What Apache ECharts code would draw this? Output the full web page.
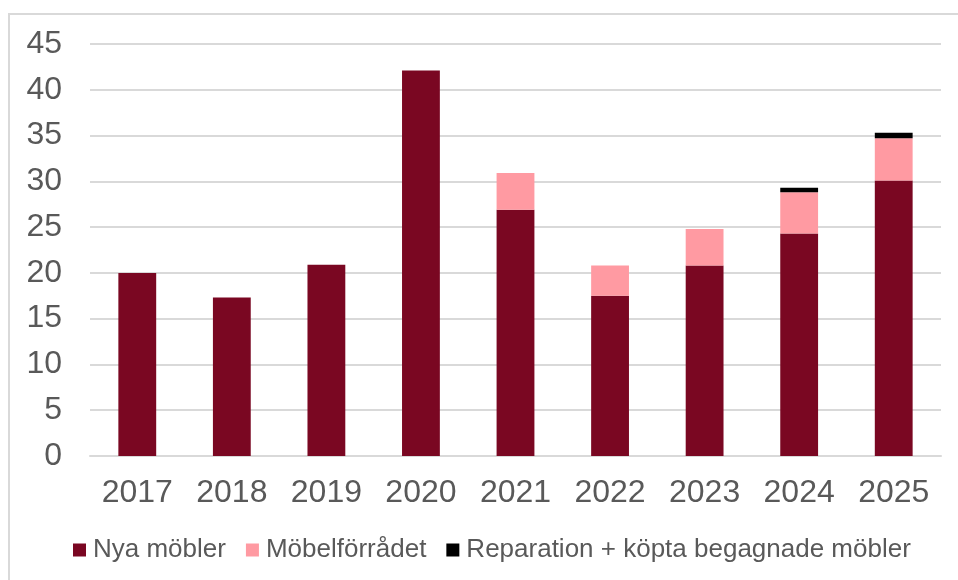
<!DOCTYPE html>
<html>
<head>
<meta charset="utf-8">
<script src="https://cdn.jsdelivr.net/npm/echarts@6/dist/echarts.min.js"></script>
<style>
  html, body { margin: 0; padding: 0; background: #fff; }
  #chart { width: 958px; height: 580px; }
</style>
</head>
<body>
<div id="chart"></div>
<script>
// år och värden
const years = ['2017', '2018', '2019', '2020', '2021', '2022', '2023', '2024', '2025'];
const nyaMobler = [20.0, 17.3, 20.9, 42.1, 26.9, 17.5, 20.8, 24.3, 30.1];
const mobelforradet = [0, 0, 0, 0, 4.0, 3.3, 4.0, 4.5, 4.6];
const reparation = [0, 0, 0, 0, 0, 0, 0, 0.5, 0.6];
const seriesNames = ['Nya möbler', 'Möbelförrådet', 'Reparation + köpta begagnade möbler'];
const colors = ['#7a0722', '#ff9aa2', '#000000'];

const font = '"Liberation Sans", Arial, sans-serif';

const option = {
    animation: false,
    color: colors,
    textStyle: { fontFamily: font },
    graphic: [
        {
            type: 'rect',
            shape: { x: 9, y: 14, width: 970, height: 600 },
            style: { fill: 'none', stroke: '#d9d9d9', lineWidth: 2 },
            silent: true
        }
    ],
    legend: {
        data: seriesNames,
        bottom: 12,
        left: 68,
        itemWidth: 13,
        itemHeight: 13,
        itemGap: 20,
        icon: 'rect',
        textStyle: { color: '#595959', fontSize: 26, fontFamily: font, padding: [0, 0, 0, 2] }
    },
    grid: {
        left: 90,
        right: 17,
        top: 44,
        bottom: 124
    },
    xAxis: {
        type: 'category',
        data: years,
        axisTick: { show: false },
        axisLine: { lineStyle: { color: '#d9d9d9', width: 2 } },
        axisLabel: { color: '#595959', fontSize: 32, margin: 21, fontFamily: font }
    },
    yAxis: {
        type: 'value',
        min: 0,
        max: 45,
        interval: 5,
        axisLine: { show: false },
        axisTick: { show: false },
        splitLine: { lineStyle: { color: '#d9d9d9', width: 2 } },
        axisLabel: { color: '#595959', fontSize: 32, margin: 28, fontFamily: font }
    },
    series: [
        {
            name: seriesNames[0],
            type: 'bar',
            stack: 'total',
            barWidth: '40%',
            data: nyaMobler
        },
        {
            name: seriesNames[1],
            type: 'bar',
            stack: 'total',
            data: mobelforradet
        },
        {
            name: seriesNames[2],
            type: 'bar',
            stack: 'total',
            data: reparation
        }
    ]
};

const chart = echarts.init(document.getElementById('chart'));
chart.setOption(option);
</script>
</body>
</html>
